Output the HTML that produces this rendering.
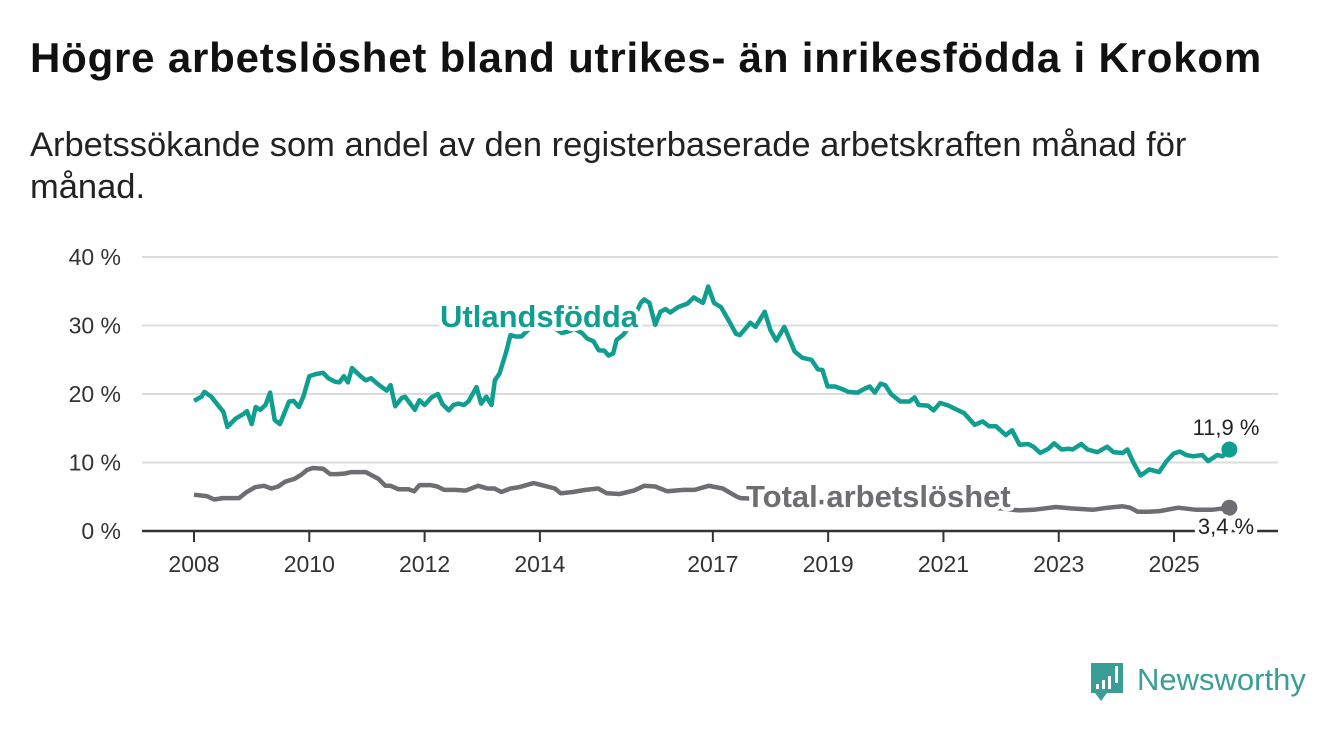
<!DOCTYPE html>
<html><head><meta charset="utf-8"><style>
body{margin:0;background:#fff;width:1340px;height:734px;overflow:hidden;font-family:"Liberation Sans",sans-serif;}
#title{position:absolute;left:30px;top:34px;font-size:42px;font-weight:bold;color:#111;margin:0;letter-spacing:0.8px;white-space:nowrap}
#sub{position:absolute;left:30px;top:124px;font-size:34.5px;color:#222;width:1280px;line-height:42px;margin:0}
svg{position:absolute;left:0;top:0}
</style></head><body>
<h1 id="title">Högre arbetslöshet bland utrikes- än inrikesfödda i Krokom</h1>
<p id="sub">Arbetssökande som andel av den registerbaserade arbetskraften månad för<br>månad.</p>
<svg id="chart" width="1340" height="734"></svg>
<script>
const yTicks=[0,10,20,30,40];
const yTickLabels=["0 %","10 %","20 %","30 %","40 %"];
const xTicks=[2008,2010,2012,2014,2017,2019,2021,2023,2025];
const foreignYears=[2008.0,2008.13,2008.18,2008.3,2008.44,2008.51,2008.58,2008.72,2008.86,2008.92,2009.0,2009.07,2009.15,2009.24,2009.32,2009.4,2009.49,2009.65,2009.73,2009.82,2009.9,2010.0,2010.11,2010.24,2010.33,2010.45,2010.52,2010.6,2010.67,2010.74,2010.89,2010.98,2011.07,2011.18,2011.34,2011.41,2011.49,2011.6,2011.66,2011.75,2011.83,2011.91,2012.0,2012.12,2012.23,2012.31,2012.42,2012.5,2012.59,2012.68,2012.76,2012.9,2012.98,2013.07,2013.16,2013.22,2013.3,2013.41,2013.49,2013.58,2013.68,2013.74,2013.9,2014.05,2014.2,2014.38,2014.48,2014.6,2014.73,2014.82,2014.93,2015.02,2015.12,2015.19,2015.27,2015.33,2015.44,2015.55,2015.65,2015.75,2015.81,2015.9,2016.0,2016.09,2016.18,2016.26,2016.4,2016.56,2016.67,2016.83,2016.92,2017.02,2017.14,2017.29,2017.4,2017.47,2017.65,2017.74,2017.9,2018.0,2018.1,2018.24,2018.42,2018.55,2018.71,2018.82,2018.9,2018.99,2019.12,2019.25,2019.35,2019.51,2019.64,2019.72,2019.81,2019.91,2019.99,2020.09,2020.25,2020.41,2020.5,2020.57,2020.73,2020.83,2020.94,2021.09,2021.21,2021.36,2021.54,2021.68,2021.79,2021.91,2022.08,2022.19,2022.32,2022.47,2022.56,2022.68,2022.82,2022.92,2023.05,2023.18,2023.24,2023.39,2023.5,2023.67,2023.84,2023.95,2024.11,2024.19,2024.3,2024.42,2024.57,2024.74,2024.87,2024.99,2025.1,2025.21,2025.33,2025.49,2025.59,2025.75,2025.84,2025.96];
const foreignValues=[19.0,19.6,20.3,19.6,18.1,17.4,15.2,16.4,17.1,17.5,15.6,18.1,17.7,18.4,20.2,16.2,15.6,18.9,19.0,18.1,19.7,22.6,22.9,23.1,22.3,21.8,21.7,22.6,21.7,23.8,22.6,22.0,22.3,21.5,20.5,21.3,18.2,19.4,19.6,18.6,17.7,19.1,18.4,19.5,20.0,18.5,17.6,18.4,18.6,18.4,18.9,21.0,18.6,19.6,18.4,22.0,23.0,26.0,28.6,28.4,28.4,28.9,30.2,30.6,30.0,28.9,29.1,29.5,28.9,28.1,27.7,26.4,26.3,25.6,25.9,27.9,28.6,29.8,31.5,33.3,33.8,33.3,30.1,32.0,32.4,31.9,32.7,33.2,34.1,33.3,35.7,33.3,32.7,30.5,28.8,28.6,30.4,29.8,32.0,29.3,27.8,29.8,26.2,25.3,25.0,23.6,23.5,21.1,21.1,20.7,20.3,20.2,20.8,21.1,20.2,21.5,21.3,20.0,18.9,18.9,19.5,18.4,18.3,17.6,18.7,18.3,17.8,17.2,15.5,16.0,15.3,15.3,14.0,14.7,12.6,12.7,12.3,11.4,12.0,12.8,11.9,12.0,11.9,12.7,11.9,11.5,12.3,11.5,11.4,11.9,9.9,8.1,9.0,8.6,10.2,11.3,11.6,11.1,10.9,11.1,10.2,11.1,10.9,11.9];
const totalYears=[2008.0,2008.22,2008.35,2008.5,2008.78,2008.9,2009.06,2009.21,2009.34,2009.46,2009.58,2009.74,2009.86,2009.96,2010.06,2010.24,2010.36,2010.48,2010.62,2010.73,2010.98,2011.2,2011.32,2011.41,2011.54,2011.72,2011.82,2011.91,2012.1,2012.22,2012.34,2012.53,2012.71,2012.93,2013.09,2013.21,2013.33,2013.49,2013.64,2013.89,2014.08,2014.26,2014.36,2014.57,2014.79,2015.01,2015.16,2015.38,2015.63,2015.81,2016.0,2016.21,2016.49,2016.68,2016.93,2017.17,2017.42,2017.48,2018.0,2018.5,2019.0,2019.5,2020.0,2020.5,2021.0,2021.5,2022.0,2022.31,2022.56,2022.95,2023.21,2023.59,2023.85,2024.11,2024.24,2024.37,2024.56,2024.75,2025.07,2025.39,2025.65,2025.96];
const totalValues=[5.3,5.1,4.6,4.8,4.8,5.6,6.4,6.6,6.2,6.5,7.2,7.6,8.2,8.9,9.2,9.1,8.3,8.3,8.4,8.6,8.6,7.6,6.6,6.6,6.1,6.1,5.8,6.7,6.7,6.5,6.0,6.0,5.9,6.6,6.2,6.2,5.7,6.2,6.4,7.0,6.6,6.2,5.5,5.7,6.0,6.2,5.5,5.4,5.9,6.6,6.5,5.8,6.0,6.0,6.6,6.2,5.0,4.8,4.6,4.3,4.2,4.0,4.8,4.6,4.0,3.6,3.3,3.0,3.1,3.5,3.3,3.1,3.4,3.6,3.4,2.8,2.8,2.9,3.4,3.1,3.1,3.4];

const NS='http://www.w3.org/2000/svg';
const svg=document.getElementById('chart');
const X0=142,X1=1278,Y0=531;
function xs(y){return 194+(y-2008)*57.65;}
function ys(v){return Y0-v*6.85;}
function mk(t,a,p){const e=document.createElementNS(NS,t);for(const k in a)e.setAttribute(k,a[k]);(p||svg).appendChild(e);return e;}
yTicks.forEach((t,i)=>{
  if(t>0){const g=mk('line',{x1:X0,x2:X1,y1:ys(t),y2:ys(t),stroke:'#dcdcdc','stroke-width':2});
  
  }
  const l=mk('text',{x:121,y:ys(t)+8,'text-anchor':'end','font-size':23,fill:'#333'});
  l.textContent=yTickLabels[i];
  
  
});
const ax=mk('line',{x1:X0,x2:X1,y1:Y0,y2:Y0,stroke:'#333','stroke-width':2.5});


xTicks.forEach(t=>{
  mk('line',{x1:xs(t),x2:xs(t),y1:Y0,y2:Y0+11,stroke:'#333','stroke-width':2});
  const l=mk('text',{x:xs(t),y:572,'text-anchor':'middle','font-size':23,fill:'#333'});
  l.textContent=t;
  
  
});
function line(xsArr,vals,col,name){
  const d=xsArr.map((y,i)=>(i?'L':'M')+xs(y).toFixed(1)+','+ys(vals[i]).toFixed(1)).join('');
  const p=mk('path',{d:d,fill:'none',stroke:col,'stroke-width':4.5,'stroke-linejoin':'round'});
  
  
  const n=vals.length-1;
  const c=mk('circle',{cx:xs(xsArr[n]),cy:ys(vals[n]),r:8,fill:col});
  
  
}
line(totalYears,totalValues,'#6e6d72','total-line');
line(foreignYears,foreignValues,'#0f9e8f','foreign-born-line');
function lab(x,y,txt,col,size,bold,name,anchor){
  const t=mk('text',{x:x,y:y,'font-size':size,'font-weight':bold?'bold':'normal',fill:col,stroke:'#fff','stroke-width':8,'paint-order':'stroke','stroke-linejoin':'round','text-anchor':anchor||'start'});
  t.textContent=txt;
  
  
}
lab(440,327,'Utlandsfödda','#0f9e8f',31,true,'series-label-foreign');
lab(746,507,'Total arbetslöshet','#6e6d72',31,true,'series-label-total');
lab(1226,435,'11,9 %','#222',22,false,'value-label-foreign','middle');
lab(1226,534,'3,4 %','#222',22,false,'value-label-total','middle');
// logo
const lg=mk('g',{});


mk('path',{d:'M1091 663h32v30h-16l-6 8-6-8h-4z',fill:'#3a9e96'},lg);
[[1096,684],[1102,680],[1108,676]].forEach(b=>mk('rect',{x:b[0],y:b[1],width:3,height:689-b[1],fill:'#fff'},lg));
mk('rect',{x:1115,y:666,width:3,height:17,fill:'#fff'},lg);
const lt=mk('text',{x:1137,y:690,'font-size':31,fill:'#3a9e96'},lg);
lt.textContent='Newsworthy';
</script>
</body></html>
